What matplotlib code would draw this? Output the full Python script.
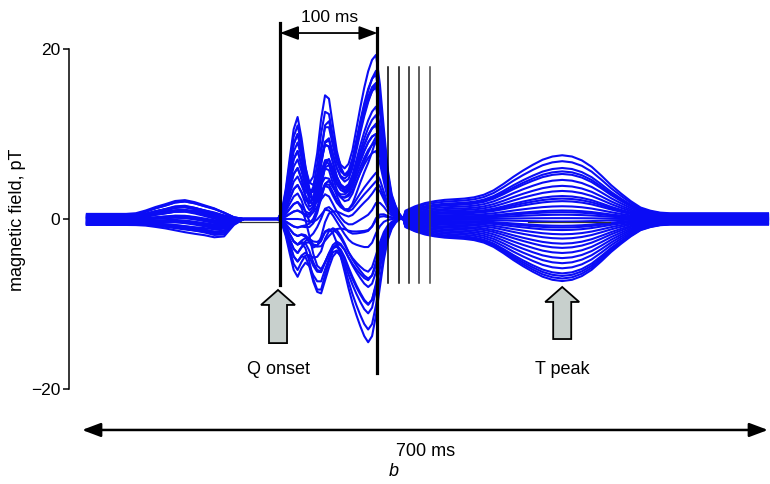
import numpy as np
import matplotlib
matplotlib.use("Agg")
import matplotlib.pyplot as plt
from matplotlib.patches import FancyArrow

plt.rcParams["font.family"] = ["Liberation Sans", "DejaVu Sans"]

# time grids (ms) for the three parts of the beat
t_p = np.arange(5, 200, 10)      # P wave + PR segment
t_q = np.arange(200, 330, 4)     # QRS
t_t = np.arange(330, 705, 10)    # ST + T wave

# wave shapes (peak = 1)
base_shape = [1, 1, 1, 1, 1, 1, 1, 1, 1, 1, 1, 1, 1, 1, .6, .2, 0, 0, 0, 0]
p1_shape = [0, 0, 0, 0, 0, .05, .25, .5, .7, .92, .97, .8, .55, .3, .1, 0, 0, 0, 0, 0]
p2_shape = [0, 0, 0, 0, 0, 0, 0, .05, .12, .22, .35, .5, .65, .85, 1, .35, 0, 0, 0, 0]
lobe1 = [0, .08, .3, .6, .88, 1, .8, .55, .35, .2, .1, .05] + [0] * 21
lobe2 = [0] * 8 + [.05, .2, .45, .75, .97, .95, .75, .5, .3, .15, .05] + [0] * 14
lobe2e = [0] * 6 + [.05, .2, .45, .75, .95, 1, .85, .6, .35, .15, .05] + [0] * 16
lobe3 = [0] * 15 + [.05, .12, .2, .3, .42, .55, .68, .8, .9, .97, 1, .82, .55, .3, .15, .08, .03, 0]
lobe3e = [0] * 13 + [.05, .12, .22, .33, .45, .57, .68, .78, .87, .95, 1, .95, .78, .55, .33,
                     .17, .08, .03, 0, 0]
t_shape = [.13, .2, .25, .28, .3, .31, .32, .34, .38, .45,
           .55, .66, .76, .85, .93, .98, 1.0, .98, .92, .82,
           .68, .53, .4, .28, .18, .13, .1, .09, .09, .09,
           .09, .09, .09, .09, .09, .09, .09, .09]

# per-channel amplitudes (pT)
off = [0.3, -0.5, 0.1, -0.65, 0.45, -0.2, 0.0, -0.55, 0.2, -0.35, 0.6, -0.7, -0.1, 0.35, -0.6, 0.15,
       -0.45, 0.05, -0.25, 0.4, -0.5, -0.05, 0.25, -0.7, -0.3, 0.1, -0.4, 0.5, -0.15, -0.6, 0.2, -0.35]
p1 = [1.2, 0.3, 0.8, -0.2, 1.55, 0.5, 1.0, 0.0, 1.4, 0.2, 1.6, -0.3, 0.6, 1.1, -0.1, 0.9,
      0.4, 1.3, 0.1, 0.7, -0.25, 0.55, 1.25, 0.05, 0.35, 0.95, -0.15, 1.5, 0.45, 0.15, 0.75, 0.25]
p2 = [-0.2, -0.8, 0.1, -1.1, 0.3, -0.5, -0.3, -1.3, 0.0, -0.6, 0.2, -1.6, -0.4, 0.1, -1.0, -0.1,
      -0.7, 0.2, -0.5, 0.0, -1.2, -0.3, 0.1, -1.4, -0.6, -0.2, -0.9, 0.3, -0.4, -1.1, -0.1, -0.8]
l1 = [12, 10, 8, 11, 6, 9, 4, 7, 3, 5, 2, 1, -1, 0, -2, -3,
      2, -4, -5, -2, -6.8, -3, -5, -6, -4, -1, 6, 8, 4, -3, 1, 10]
l2 = [6, 15, 12, 9, 14, 7, 11, 5, 10, 4, 8, 3, 6, 2, 4, 1,
      0, 3, 0, 2, 0, 1, 0, 2, 0, 5, 13, 8, 9, 0, 7, 12]
l2e = [-2, 0, -1, 0, -3, 0, -2, 0, -4, 0, -1, 0, -2, -1, -5, -3,
       -6, -2, -8.5, -4, -7, -8.9, -6, -5, -3, -1, 0, -2, 0, -6, -1, -3]
l3 = [10, 19, 17, 14, 19.3, 12, 15.5, 9, 13, 7, 11, 5, 8, 3, 6, 2,
      0, 4, 1, 0, 2, 0, 1, 0, 3, 6, 16, 12, 10, 0, 14, 17.5]
l3e = [0, -2, 0, -1, 0, -3, 0, 0, -1, -2, 0, -4, 0, -6, -3, -8,
       -10, -5, -12, -14.5, -9, -13, -11, -7, -4, -2, 0, -1, 0, -8, -6, -2]
tw = [7.5, 6.8, 6.0, 5.3, 4.6, 3.9, 3.3, 2.7, 2.1, 1.5, 1.0, 0.5, 0.1, -0.3, -0.8, -1.3,
      -1.8, -2.3, -2.9, -3.4, -4.0, -4.6, -5.2, -5.8, -6.4, -7.0, -7.3, -6.7, 2.4, 5.6, -1.0, 0.8]

# markers (ms)
q_onset = 202
qrs_end = 301.5
st_lines = [312, 323, 334, 344, 355]
t_peak = 490

fig = plt.figure(figsize=(7.7, 4.84), dpi=100)
ax = fig.add_axes([69 / 770, 1 - 389 / 484, 701 / 770, 340 / 484])
ax.set_xlim(-13.27, 702.04)
ax.set_ylim(-20, 20)

t_all = np.concatenate([t_p, t_q, t_t])
for i in range(len(off)):
    yp = off[i] * np.array(base_shape) + p1[i] * np.array(p1_shape) + p2[i] * np.array(p2_shape)
    yq = (l1[i] * np.array(lobe1) + l2[i] * np.array(lobe2) + l2e[i] * np.array(lobe2e)
          + l3[i] * np.array(lobe3) + l3e[i] * np.array(lobe3e))
    yt = tw[i] * np.array(t_shape)
    ax.plot(t_all, np.concatenate([yp, yq, yt]), color="#0a0cf5", lw=1.5, zorder=2)

# baseline marks
ax.plot([161, 200], [-0.3, -0.3], color="#333333", lw=0.9, zorder=3)
ax.plot([455, 539], [-0.4, -0.4], color="#333333", lw=0.9, zorder=3)

# vertical markers
ax.plot([q_onset, q_onset], [-7.76, 23.06], color="black", lw=2.3, clip_on=False, zorder=4)
ax.plot([qrs_end, qrs_end], [-18.1, 22.47], color="black", lw=2.3, clip_on=False, zorder=4)
for k, x in enumerate(st_lines):
    ax.plot([x, x], [-7.5, 17.9], color=["#000000", "#0a0a0a", "#1a1a1a", "#333333", "#444444"][k],
            lw=1.1, zorder=4)

arrow_style = "<|-|>,head_length=0.8,head_width=0.3"
ax.annotate("", xy=(q_onset, 21.88), xytext=(qrs_end, 21.88), annotation_clip=False,
            arrowprops=dict(arrowstyle=arrow_style, mutation_scale=14, lw=1.3, color="black",
                            shrinkA=0, shrinkB=0))
ax.text(253, 23.76, "100 ms", ha="center", va="center", fontsize=12.5, clip_on=False)

ax.annotate("", xy=(0, -24.82), xytext=(700, -24.82), annotation_clip=False,
            arrowprops=dict(arrowstyle=arrow_style, mutation_scale=14, lw=1.8, color="black",
                            shrinkA=0, shrinkB=0))
ax.text(350.5, -27.3, "700 ms", ha="center", va="center", fontsize=13, clip_on=False)
ax.text(318.4, -29.65, "b", ha="center", va="center", fontsize=13, style="italic", clip_on=False)

# grey block arrows
for x, y0, y1, label in [(q_onset - 2, -14.6, -8.35, "Q onset"), (t_peak, -14.12, -8.0, "T peak")]:
    ax.add_patch(FancyArrow(x, y0, 0, y1 - y0, width=18.4, head_width=34.7, head_length=1.76,
                            length_includes_head=True, fc="#c8d0cd", ec="black", lw=1.3, zorder=5))
    ax.text(x, -17.76, label, ha="center", va="center", fontsize=13)

for s in ["top", "right", "bottom"]:
    ax.spines[s].set_visible(False)
ax.spines["left"].set_linewidth(1.1)
ax.set_xticks([])
ax.set_yticks([-20, 0, 20])
ax.tick_params(axis="y", length=4.3, width=1.1, pad=2, labelsize=12.5)
fig.text(18 / 770, 1 - 220 / 484, "magnetic field, pT", rotation=90, ha="center", va="center",
         fontsize=13)

fig.savefig("out.png", dpi=100)
